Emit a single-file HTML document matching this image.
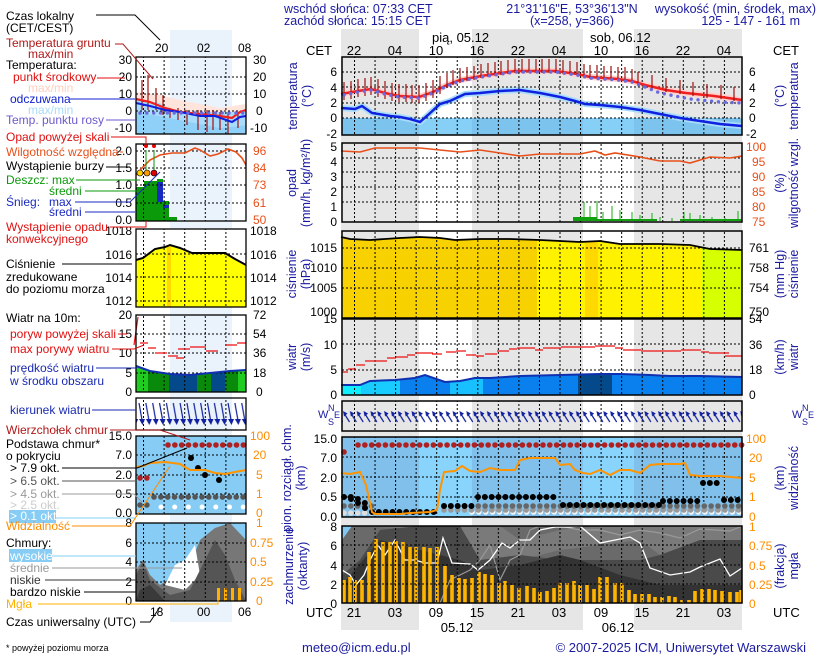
<!DOCTYPE html>
<html><head><meta charset="utf-8">
<style>
html,body{margin:0;padding:0;background:#fff;}
svg{display:block;font-family:"Liberation Sans",Arial,sans-serif;}
</style></head>
<body>
<svg width="820" height="660" viewBox="0 0 820 660" xmlns="http://www.w3.org/2000/svg">
<defs>
<pattern id="vg" patternUnits="userSpaceOnUse" x="354" y="0" width="20.55" height="4"><rect x="0" y="0" width="1" height="2" fill="#000"/></pattern>
<pattern id="lvg" patternUnits="userSpaceOnUse" x="143" y="0" width="20.6" height="4"><rect x="0" y="0" width="1" height="2" fill="#000"/></pattern>
<pattern id="wd" patternUnits="userSpaceOnUse" x="343" y="401" width="6.85" height="30"><path d="M6.5 21L1.5 13" stroke="#1020a0" stroke-width="1.2"/><path d="M0 10L4.5 12.5L1 15.5Z" fill="#1020a0"/></pattern>
<pattern id="lwd" patternUnits="userSpaceOnUse" x="138" y="398" width="6.85" height="32"><path d="M1 5L4 22" stroke="#1020a0" stroke-width="1.2"/><path d="M1 21L7 21L4.5 27Z" fill="#1020a0"/></pattern>
<clipPath id="cT"><rect x="342" y="57" width="400" height="78"/></clipPath>
<clipPath id="cC"><rect x="342" y="526" width="400" height="77"/></clipPath>
<clipPath id="lC"><rect x="136" y="523" width="110" height="78"/></clipPath>
</defs>
<rect width="820" height="660" fill="#fff"/>
<rect x="170" y="30" width="62" height="592" fill="#eaf2fc"/>
<rect x="341" y="29" width="78" height="601" fill="#e6e6e6"/>
<rect x="472" y="29" width="111" height="601" fill="#e6e6e6"/>
<rect x="634" y="29" width="108" height="601" fill="#e6e6e6"/>

<g font-size="12.5" fill="#1a1aa0">
<text x="284" y="13">wschód słońca: 07:33 CET</text>
<text x="284" y="25">zachód słońca: 15:15 CET</text>
<text x="572" y="13" text-anchor="middle">21°31'16"E, 53°36'13"N</text>
<text x="572" y="25" text-anchor="middle">(x=258,  y=366)</text>
<text x="816" y="13" text-anchor="end">wysokość (min, środek, max)</text>
<text x="800" y="25" text-anchor="end">125 - 147 - 161 m</text>
</g>
<g font-size="13" fill="#000">
<text x="432" y="42">pią, 05.12</text>
<text x="590" y="42">sob, 06.12</text>
<text x="306" y="55">CET</text><text x="773" y="55">CET</text>
<g text-anchor="middle">
<text x="354" y="55">22</text><text x="395" y="55">04</text><text x="436" y="55">10</text><text x="477" y="55">16</text><text x="518" y="55">22</text><text x="559" y="55">04</text><text x="601" y="55">10</text><text x="642" y="55">16</text><text x="683" y="55">22</text><text x="724" y="55">04</text>
<text x="354" y="617">21</text><text x="395" y="617">03</text><text x="436" y="617">09</text><text x="477" y="617">15</text><text x="518" y="617">21</text><text x="559" y="617">03</text><text x="601" y="617">09</text><text x="642" y="617">15</text><text x="683" y="617">21</text><text x="724" y="617">03</text>
<text x="457" y="632">05.12</text><text x="618" y="632">06.12</text>
</g>
<text x="306" y="617">UTC</text><text x="773" y="617">UTC</text>
</g>

<!-- TEMPERATURE -->
<g clip-path="url(#cT)">
<rect x="342" y="118" width="400" height="17" fill="#7cc4ee"/>
<rect x="419" y="118" width="53" height="17" fill="#86d0f8"/>
<rect x="583" y="118" width="51" height="17" fill="#86d0f8"/>
<polyline fill="none" stroke="#ffd0cc" stroke-width="6" points="341,94 358,91 371,89 385,93 399,96 419,97 433,92 447,85 460,80 481,76 501,73 515,71 556,71 577,74 590,77 618,79 632,81 645,85 666,90 686,93 714,96 742,100"/>
<polyline fill="none" stroke="#a8dcfa" stroke-width="6" points="341,108 355,109 362,106 372,113 390,116 400,117 410,119 420,122 428,115 440,104 450,101 465,94 480,93 500,91 520,90 540,93 560,97 575,101 585,104 600,105 620,107 640,110 660,114 680,118 700,121 720,124 742,126"/>
</g>
<rect x="342" y="57" width="400" height="78" fill="url(#vg)"/>
<path d="M342 72H742M342 87H742M342 103H742M342 118H742" stroke="#000" stroke-dasharray="2,2"/>
<polyline fill="none" stroke="#ee2020" stroke-width="2.5" points="341,94 358,91 371,89 385,93 399,96 419,97 433,92 447,85 460,80 481,76 501,73 515,71 556,71 577,74 590,77 618,79 632,81 645,85 666,90 686,93 714,96 742,100"/>
<path stroke="#a01010" stroke-width="1.2" d="M344 82V100M351 81V99M358 79V97M365 78V96M371 77V95M378 79V97M385 81V99M392 83V101M399 84V102M406 84V102M412 85V103M419 85V103M426 83V101M433 80V98M440 76V94M447 73V88M453 70V85M460 68V83M467 67V81M474 66V80M481 64V78M488 63V77M495 62V76M501 61V75M508 60V74M515 59V73M522 59V73M529 59V73M536 59V73M542 59V73M549 59V73M556 59V73M563 60V74M570 61V75M577 62V76M584 64V78M590 65V79M597 65V79M604 66V80M611 66V80M618 67V81M625 67V81M632 69V83M638 72V86M652 75V89M666 78V92M680 80V94M693 82V96M707 84V98M721 85V99M734 87V101"/>
<polyline fill="none" stroke="#6a6ae0" stroke-width="3.4" stroke-linecap="round" stroke-dasharray="0 6.85" points="344,95 358,92 371,90 385,94 399,97 419,98 433,93 447,86 460,81 481,77 501,74 515,72 556,72 577,75 590,78 618,80 632,82 645,87 660,93 690,99 720,102 742,103"/>
<polyline fill="none" stroke="#1020e0" stroke-width="2.5" points="341,108 355,109 362,106 372,113 390,116 400,117 410,119 420,122 428,115 440,104 450,101 465,94 480,93 500,91 520,90 540,93 560,97 575,101 585,104 600,105 620,107 640,110 660,114 680,118 700,121 720,124 742,126"/>
<rect x="342" y="57" width="400" height="78" fill="none" stroke="#000" stroke-width="1.5"/>

<!-- PRECIP -->
<rect x="342" y="143" width="400" height="79" fill="url(#vg)"/>
<path d="M342 158H742M342 172H742M342 187H742M342 202H742" stroke="#000" stroke-dasharray="2,2"/>
<path stroke="#10b010" stroke-width="1" d="M576 221V218M584 221V202M590 221V206M597 221V201M603 221V212M612 221V206M620 221V210M632 221V212M640 221V215M652 221V213M660 221V217M672 221V218M684 221V212M690 221V213M700 221V215M712 221V217M725 221V218M738 221V211"/>
<rect x="573" y="217" width="24" height="4" fill="#10a010"/>
<rect x="597" y="219" width="60" height="2" fill="#10a010"/>
<rect x="680" y="219" width="62" height="2" fill="#10a010"/>
<polyline fill="none" stroke="#e8501a" stroke-width="1.6" points="341,151 360,152 375,148 420,148 460,152 480,150 500,153 520,156 540,154 560,154 580,154 595,151 605,155 615,153 640,157 660,161 680,161 690,163 710,157 730,158 742,156"/>
<rect x="342" y="143" width="400" height="79" fill="none" stroke="#000" stroke-width="1.5"/>

<!-- PRESSURE -->
<polygon fill="#f8d200" points="341,237 350,239 370,240 400,238 420,237 440,238 455,240 480,239 510,239 537,240 537,318 341,318"/>
<polygon fill="#fff200" points="537,240 560,241 580,242 600,241 620,244 660,244 690,245 702,248 702,318 537,318"/>
<rect x="585" y="242" width="13" height="76" fill="#ffd800"/>
<polygon fill="#d6ff00" points="702,248 710,249 742,250 742,318 702,318"/>
<rect x="342" y="231" width="400" height="87" fill="url(#vg)"/>
<path d="M342 248H742M342 268H742M342 288H742" stroke="#000" stroke-dasharray="2,2"/>
<polyline fill="none" stroke="#000" stroke-width="1.8" points="341,237 350,239 370,240 400,238 420,237 440,238 455,240 480,239 510,239 540,240 560,241 580,242 600,241 620,244 660,244 690,245 710,249 742,250"/>
<rect x="342" y="231" width="400" height="87" fill="none" stroke="#000" stroke-width="1.5"/>

<!-- WIND -->
<polygon fill="#0a80ee" points="341,385 360,385 370,381 395,380 415,378 425,375 445,382 460,381 475,378 490,378 520,376 560,375 600,374 620,374 650,375 670,376 700,376 742,377 742,395 341,395"/>
<polygon fill="#18ccff" points="341,385 360,385 370,381 395,380 400,380 400,395 341,395"/>
<rect x="341" y="385" width="20" height="10" fill="#10eeff"/>
<polygon fill="#18c0ff" points="450,381 460,381 475,378 483,378 483,395 450,395"/>
<rect x="578" y="375" width="34" height="20" fill="#044a8a"/>
<rect x="342" y="319" width="400" height="76" fill="url(#vg)"/>
<path d="M342 344H742M342 370H742" stroke="#000" stroke-dasharray="2,2"/>
<polyline fill="none" stroke="#1030b0" stroke-width="2" points="341,385 360,385 370,381 395,380 415,378 425,375 445,382 460,381 475,378 490,378 520,376 560,375 600,374 620,374 650,375 670,376 700,376 742,377"/>
<path stroke="#ee1010" stroke-width="1.3" d="M342 372h6M348 369h8M356 365h9M365 361h22M387 358h9M396 357h12M407 355h8M415 353h18M432 354h10M446 352h10M456 351h10M466 355h10M476 356h8M485 354h12M497 351h12M509 349h8M517 348h18M535 350h8M543 348h18M561 347h34M595 346h20M615 348h8M623 350h18M641 351h40M681 350h20M701 352h8M709 353h20M725 356h17"/>
<rect x="342" y="319" width="400" height="76" fill="none" stroke="#000" stroke-width="1.5"/>

<!-- WIND DIR -->
<rect x="342" y="401" width="400" height="30" fill="url(#vg)"/>
<rect x="342" y="402" width="400" height="28" fill="url(#wd)"/>
<rect x="342" y="401" width="400" height="30" fill="none" stroke="#000" stroke-width="1.5"/>

<!-- CLOUD BASE -->
<rect x="342" y="437" width="400" height="80" fill="#80c0ea"/>
<rect x="419" y="437" width="53" height="80" fill="#88d4fc"/>
<rect x="583" y="437" width="51" height="80" fill="#88d4fc"/>
<rect x="342" y="437" width="400" height="80" fill="url(#vg)"/>
<path d="M342 457H742M342 477H742M342 497H742" stroke="#000" stroke-dasharray="2,2"/>
<path d="M472 512H742" stroke="#f4f4f4" stroke-width="5.6" stroke-linecap="round" stroke-dasharray="0 6.85"/>
<path d="M344 513H372" stroke="#ddd" stroke-width="5.6" stroke-linecap="round" stroke-dasharray="0 6.85"/>
<path d="M444 510H742" stroke="#999" stroke-width="5.6" stroke-linecap="round" stroke-dasharray="0 6.85"/>
<path d="M344 506H372M444 506H742" stroke="#666" stroke-width="5.6" stroke-linecap="round" stroke-dasharray="0 6.85"/>
<path d="M344 497h7.5M351 499h7M358 503h7M365 508h6.5M372 512H440M444 506H472M478 497H560M563 505H660M663 501H700M703 483H722M724 500H742" stroke="#000" stroke-width="6" stroke-linecap="round" stroke-dasharray="0 6.85"/>
<path d="M344 452h6M351 449h0M358 445H742" stroke="#b02020" stroke-width="5.6" stroke-linecap="round" stroke-dasharray="0 6.85"/>
<polyline fill="none" stroke="#ff9400" stroke-width="2" points="341,473 350,474 360,472 366,485 372,512 375,514 400,514 410,513 430,512 437,510 440,490 444,472 455,471 462,466 470,471 480,472 490,468 500,470 515,470 520,460 530,458 555,458 560,465 570,464 575,470 583,473 590,474 600,470 610,475 620,470 630,470 640,473 650,465 660,464 680,464 685,463 690,475 700,476 720,476 742,478"/>
<rect x="342" y="437" width="400" height="80" fill="none" stroke="#000" stroke-width="1.5"/>

<!-- CLOUD COVER -->
<g clip-path="url(#cC)">
<rect x="342" y="526" width="400" height="77" fill="#6a6a6a"/>
<polygon fill="#7a7a7a" points="342,526 500,526 520,540 560,530 600,526 742,526 742,570 720,560 690,560 660,555 640,540 600,545 560,550 520,560 480,560 460,530"/>
<polygon fill="#4a4a4a" points="342,575 360,560 380,530 420,526 460,526 480,560 520,555 560,560 600,560 640,560 660,555 700,540 742,540 742,603 342,603"/>
<polygon fill="#333" points="342,585 380,540 420,550 460,560 480,570 520,565 560,555 580,560 620,575 660,585 742,585 742,603 342,603"/>
<polygon fill="#82c8f0" points="342,526 352,526 342,540"/>
<polyline fill="none" stroke="#999" stroke-width="1.2" points="440,603 450,580 470,570 480,560 490,545 500,580 510,560 520,555 530,530 540,526 560,526 580,530 600,530 620,535 640,530 660,533 680,538 700,529 730,531 742,526"/>
<polyline fill="none" stroke="#fff" stroke-width="1.3" points="342,570 350,575 356,585 364,575 370,560 378,545 385,555 395,540 405,560 415,560 425,563 437,563 443,538 452,563 470,564 478,570 490,560 502,543 510,548 520,540 530,540 540,530 555,527 570,527 580,526 600,543 630,537 640,543 650,568 670,575 690,572 700,567 720,559 730,576 742,568"/>
</g>
<path stroke="#ffb400" stroke-width="3.6" d="M344 603V580M350 603V577M355 603V580M362 603V580M369 603V552M376 603V539M383 603V542M390 603V542M396 603V541M403 603V542M410 603V547M416 603V547M424 603V547M430 603V548M437 603V547M445 603V566M452 603V575M459 603V578M465 603V579M472 603V578M479 603V572M485 603V574M492 603V575M499 603V583M505 603V581M512 603V585M519 603V588M527 603V586M534 603V588M540 603V592M547 603V591M554 603V588M560 603V583M567 603V583M574 603V581M580 603V585M587 603V585M594 603V589M600 603V577M607 603V577M615 603V583M622 603V583M629 603V590M635 603V594M642 603V594M649 603V594M655 603V597M662 603V597M669 603V596M675 603V597M682 603V600M689 603V600M695 603V591M702 603V589M709 603V589M715 603V590M722 603V591M730 603V592M737 603V592M741 603V590"/>
<rect x="342" y="526" width="400" height="77" fill="url(#vg)"/>
<path d="M342 545H742M342 565H742M342 584H742" stroke="#000" stroke-dasharray="2,2"/>
<rect x="342" y="526" width="400" height="77" fill="none" stroke="#000" stroke-width="1.5"/>

<!-- main tick labels -->
<g font-size="12" fill="#000" text-anchor="end">
<text x="337" y="76">6</text><text x="337" y="92">4</text><text x="337" y="107">2</text><text x="337" y="122">0</text><text x="337" y="138">-2</text>
<text x="337" y="151">5</text><text x="337" y="166">4</text><text x="337" y="181">3</text><text x="337" y="196">2</text><text x="337" y="211">1</text><text x="337" y="226">0</text>
<text x="337" y="252">1015</text><text x="337" y="272">1010</text><text x="337" y="292">1005</text><text x="337" y="316">1000</text>
<text x="337" y="323">15</text><text x="337" y="349">10</text><text x="337" y="374">5</text><text x="337" y="399">0</text>
<text x="337" y="443">15.0</text><text x="337" y="462">7.0</text><text x="337" y="482">2.0</text><text x="337" y="501">0.5</text><text x="337" y="521">0.0</text>
<text x="337" y="531">8</text><text x="337" y="550">6</text><text x="337" y="570">4</text><text x="337" y="589">2</text><text x="337" y="608">0</text>
</g>
<g font-size="12" fill="#000">
<text x="749" y="76">6</text><text x="749" y="92">4</text><text x="749" y="107">2</text><text x="749" y="122">0</text><text x="746" y="138">-2</text>
<text x="749" y="252">761</text><text x="749" y="272">758</text><text x="749" y="292">754</text><text x="749" y="316">750</text>
<text x="749" y="323">54</text><text x="749" y="349">36</text><text x="749" y="374">18</text><text x="749" y="399">0</text>
</g>
<g font-size="12" fill="#ff8c00">
<text x="746" y="151" fill="#e8501a">100</text><text x="752" y="166" fill="#e8501a">95</text><text x="752" y="181" fill="#e8501a">90</text><text x="752" y="196" fill="#e8501a">85</text><text x="752" y="211" fill="#e8501a">80</text><text x="752" y="226" fill="#e8501a">75</text>
<text x="746" y="443">100</text><text x="749" y="462">20</text><text x="749" y="482">5</text><text x="749" y="501">1</text><text x="749" y="521">0</text>
<text x="749" y="531">1</text><text x="749" y="550">0.75</text><text x="749" y="570">0.5</text><text x="749" y="589">0.25</text><text x="749" y="608">0</text>
</g>
<g font-size="12.5" fill="#1a1aa0" text-anchor="middle">
<text transform="translate(297,96) rotate(-90)">temperatura</text>
<text transform="translate(311,96) rotate(-90)">(°C)</text>
<text transform="translate(296,183) rotate(-90)">opad</text>
<text transform="translate(310,183) rotate(-90)">(mm/h, kg/m²/h)</text>
<text transform="translate(296,274) rotate(-90)">ciśnienie</text>
<text transform="translate(310,274) rotate(-90)">(hPa)</text>
<text transform="translate(296,357) rotate(-90)">wiatr</text>
<text transform="translate(310,357) rotate(-90)">(m/s)</text>
<text transform="translate(291,478) rotate(-90)">pion. rozciągł. chm.</text>
<text transform="translate(305,478) rotate(-90)">(km)</text>
<text transform="translate(293,566) rotate(-90)">zachmurzenie</text>
<text transform="translate(307,566) rotate(-90)">(oktanty)</text>
<text transform="translate(784,96) rotate(-90)">(°C)</text>
<text transform="translate(798,96) rotate(-90)">temperatura</text>
<text transform="translate(784,183) rotate(-90)">(%)</text>
<text transform="translate(798,183) rotate(-90)">wilgotność wzgl.</text>
<text transform="translate(784,274) rotate(-90)">(mm Hg)</text>
<text transform="translate(798,274) rotate(-90)">ciśnienie</text>
<text transform="translate(784,357) rotate(-90)">(km/h)</text>
<text transform="translate(798,357) rotate(-90)">wiatr</text>
<text transform="translate(784,478) rotate(-90)">(km)</text>
<text transform="translate(798,478) rotate(-90)">widzialność</text>
<text transform="translate(784,566) rotate(-90)">(frakcja)</text>
<text transform="translate(798,566) rotate(-90)">mgła</text>
</g>
<g font-size="11" fill="#1a1aa0">
<text x="318" y="418">W</text><text x="328" y="411" font-size="9">N</text><text x="328" y="425" font-size="9">S</text><text x="334" y="418" font-size="9">E</text>
<text x="792" y="418">W</text><text x="802" y="411" font-size="9">N</text><text x="802" y="425" font-size="9">S</text><text x="808" y="418" font-size="9">E</text>
</g>

<!-- LEFT MINI PANELS -->
<rect x="136" y="57" width="110" height="77" fill="#fff"/>
<rect x="170" y="57" width="62" height="77" fill="#eaf2fc"/>
<polygon fill="#ffe4dc" points="136,92 160,95 180,100 200,104 220,108 246,104 246,113 136,113"/>
<polygon fill="#a8dcfa" points="136,100 160,103 170,112 246,112 246,125 220,128 200,124 180,120 160,116 136,112"/>
<polygon fill="#8ed0f8" points="136,112 160,116 180,120 200,124 220,128 246,125 246,134 136,134"/>
<rect x="136" y="57" width="110" height="77" fill="url(#lvg)"/>
<path d="M136 77H246M136 94H246M136 111H246" stroke="#000" stroke-dasharray="2,2"/>
<path stroke="#a01010" stroke-width="1.2" d="M142 80v30M148 75v35M156 88v22M163 95v20M170 108v10M178 108v12M187 110v15M198 110v20M207 110v22M213 110v20M220 112v18M228 112v22M238 112v16"/>
<polyline fill="none" stroke="#ee2020" stroke-width="2.2" points="136,99 150,102 165,108 180,112 200,114 220,116 232,118 240,112 246,110"/>
<polyline fill="none" stroke="#1020e0" stroke-width="2" points="136,103 150,106 165,110 180,112 200,116 215,116 232,122 240,117 246,116"/>
<path d="M140 113H246" stroke="#6a6ae0" stroke-width="3.4" stroke-linecap="round" stroke-dasharray="0 6.85"/>
<rect x="136" y="57" width="110" height="77" fill="none" stroke="#000" stroke-width="1.3"/>

<rect x="136" y="144" width="110" height="77" fill="#fff"/>
<rect x="170" y="144" width="62" height="77" fill="#eaf2fc"/>
<rect x="136" y="187" width="8" height="34" fill="#0a9a0a"/>
<rect x="144" y="181" width="13" height="40" fill="#0a9a0a"/>
<rect x="157" y="179" width="6" height="42" fill="#0a9a0a"/>
<rect x="157" y="182" width="6" height="20" fill="#1a2ac0"/>
<rect x="163" y="201" width="6" height="20" fill="#0a9a0a"/>
<rect x="163" y="205" width="6" height="3" fill="#1a2ac0"/>
<rect x="169" y="217" width="8" height="4" fill="#0a9a0a"/>
<rect x="136" y="144" width="110" height="77" fill="url(#lvg)"/>
<path d="M136 151H246M136 168H246M136 185H246M136 203H246" stroke="#000" stroke-dasharray="2,2"/>
<polyline fill="none" stroke="#e8501a" stroke-width="1.6" points="136,175 142,168 150,160 160,155 172,153 185,153 195,148 200,150 210,156 218,154 228,149 236,152 242,158 246,165"/>
<path stroke="#0a9a0a" d="M146 150v22M154 150v24"/>
<circle cx="146" cy="146" r="2" fill="#e00"/><circle cx="154" cy="146" r="2" fill="#e00"/>
<circle cx="140" cy="173" r="3" fill="#ffd000" stroke="#000" stroke-width=".6"/><circle cx="147" cy="173" r="3" fill="#ff9a00" stroke="#000" stroke-width=".6"/><circle cx="154" cy="173" r="3" fill="#e00000" stroke="#000" stroke-width=".6"/>
<rect x="136" y="144" width="110" height="77" fill="none" stroke="#000" stroke-width="1.3"/>

<rect x="136" y="229" width="110" height="78" fill="#fff"/>
<polygon fill="#ffff00" points="136,260 143,258 155,249 165,247 170,245 180,248 192,253 210,253 225,253 235,259 246,265 246,307 136,307"/>
<rect x="167" y="246" width="4" height="61" fill="#ffd800"/>
<rect x="136" y="229" width="110" height="78" fill="url(#lvg)"/>
<path d="M136 254H246M136 277H246M136 301H246" stroke="#000" stroke-dasharray="2,2"/>
<polyline fill="none" stroke="#000" stroke-width="2" points="136,260 143,258 155,249 165,247 170,245 180,248 192,253 210,253 225,253 235,259 246,265"/>
<rect x="136" y="229" width="110" height="78" fill="none" stroke="#000" stroke-width="1.3"/>

<rect x="136" y="315" width="110" height="77" fill="#fff"/>
<rect x="170" y="315" width="62" height="77" fill="#eaf2fc"/>
<polygon fill="#0a8a0a" points="136,366 150,371 170,374 190,375 210,373 230,371 246,370 246,392 136,392"/>
<polygon fill="#20cc20" points="136,366 148,370 148,392 136,392"/>
<rect x="238" y="370" width="8" height="22" fill="#20cc20"/>
<rect x="169" y="374" width="28" height="18" fill="#044a8a"/>
<rect x="211" y="372" width="14" height="20" fill="#044a8a"/>
<rect x="136" y="315" width="110" height="77" fill="url(#lvg)"/>
<path d="M136 334H246M136 353H246M136 373H246" stroke="#000" stroke-dasharray="2,2"/>
<polyline fill="none" stroke="#1030b0" stroke-width="2" points="136,366 150,371 170,374 190,375 210,373 230,371 246,370"/>
<path stroke="#ee1010" stroke-width="1.2" d="M134 345l4-28M140 343h8M148 348h8M155 353h12M168 356h10M176 358h8M178 349h12M190 347h16M206 351h12M225 345h12M237 343h9"/>
<rect x="136" y="315" width="110" height="77" fill="none" stroke="#000" stroke-width="1.3"/>

<rect x="136" y="398" width="110" height="32" fill="#fff"/>
<rect x="170" y="398" width="62" height="32" fill="#eaf2fc"/>
<rect x="136" y="398" width="110" height="32" fill="url(#lvg)"/>
<rect x="136" y="399" width="110" height="30" fill="url(#lwd)"/>
<rect x="136" y="398" width="110" height="32" fill="none" stroke="#000" stroke-width="1.3"/>

<rect x="136" y="436" width="110" height="78" fill="#86ccf4"/>
<rect x="136" y="436" width="110" height="78" fill="url(#lvg)"/>
<path d="M136 455H246M136 475H246M136 494H246" stroke="#000" stroke-dasharray="2,2"/>
<path d="M140 478h7M154 444h0M161 450h0M168 445H246" stroke="#b02020" stroke-width="5.6" stroke-linecap="round" stroke-dasharray="0 6.85"/>
<path d="M140 505h7M154 497H246" stroke="#555" stroke-width="5.6" stroke-linecap="round" stroke-dasharray="0 6.85"/>
<path d="M161 507H246" stroke="#fff" stroke-width="5" stroke-linecap="round" stroke-dasharray="0 13.7"/>
<circle cx="191" cy="458" r="3" fill="#000"/><circle cx="198" cy="468" r="3" fill="#000"/><circle cx="205" cy="475" r="3" fill="#000"/><circle cx="219" cy="480" r="3" fill="#000"/>
<polyline fill="none" stroke="#ff9400" stroke-width="2" points="136,467 143,466 150,463 165,462 180,464 190,470 205,470 215,473 225,474 235,472 246,470"/>
<rect x="136" y="436" width="110" height="78" fill="none" stroke="#000" stroke-width="1.3"/>

<g clip-path="url(#lC)">
<rect x="136" y="523" width="110" height="78" fill="#86ccf4"/>
<polygon fill="#777" points="136,601 136,570 143,560 150,575 160,585 175,575 190,565 200,540 215,528 230,523 246,540 246,601"/>
<polygon fill="#fff" points="165,585 175,565 185,560 195,545 200,575 185,590"/>
<polygon fill="#555" points="136,601 136,575 143,562 150,580 170,595 190,590 205,560 215,540 225,555 235,580 246,601"/>
<polygon fill="#3a3a3a" points="136,601 140,590 150,585 165,601"/>
</g>
<g fill="#ffb000"><rect x="217" y="588" width="3" height="13"/><rect x="224" y="588" width="3" height="13"/><rect x="231" y="588" width="3" height="13"/><rect x="238" y="588" width="3" height="13"/></g>
<rect x="136" y="523" width="110" height="78" fill="url(#lvg)"/>
<path d="M136 543H246M136 562H246M136 582H246" stroke="#000" stroke-dasharray="2,2"/>
<rect x="136" y="523" width="110" height="78" fill="none" stroke="#000" stroke-width="1.3"/>

<g font-size="12" fill="#000" text-anchor="end">
<text x="132" y="64">30</text><text x="132" y="81">20</text><text x="132" y="98">10</text><text x="132" y="115">0</text><text x="132" y="132">-10</text>
<text x="132" y="155">2.0</text><text x="132" y="172">1.5</text><text x="132" y="189">1.0</text><text x="132" y="207">0.5</text><text x="132" y="224">0.0</text>
<text x="132" y="235">1018</text><text x="132" y="259">1016</text><text x="132" y="282">1014</text><text x="132" y="305">1012</text>
<text x="132" y="319">20</text><text x="132" y="338">15</text><text x="132" y="357">10</text><text x="132" y="377">5</text><text x="132" y="396">0</text>
<text x="132" y="440">15.0</text><text x="132" y="459">7.0</text><text x="132" y="479">2.0</text><text x="132" y="498">0.5</text><text x="132" y="517">0.0</text>
<text x="132" y="527">8</text><text x="132" y="547">6</text><text x="132" y="566">4</text><text x="132" y="586">2</text><text x="132" y="605">0</text>
</g>
<g font-size="12" fill="#000">
<text x="253" y="64">30</text><text x="253" y="81">20</text><text x="253" y="98">10</text><text x="256" y="115">0</text><text x="250" y="132">-10</text>
<text x="250" y="235">1018</text><text x="250" y="259">1016</text><text x="250" y="282">1014</text><text x="250" y="305">1012</text>
<text x="253" y="319">72</text><text x="253" y="338">54</text><text x="253" y="357">36</text><text x="253" y="377">18</text><text x="256" y="396">0</text>
<text x="155" y="52">20</text><text x="197" y="52">02</text><text x="238" y="52">08</text>
<text x="150" y="616">18</text><text x="197" y="616">00</text><text x="238" y="616">06</text>
</g>
<g font-size="12" fill="#e8501a">
<text x="253" y="155">96</text><text x="253" y="172">84</text><text x="253" y="189">73</text><text x="253" y="207">61</text><text x="253" y="224">50</text>
</g>
<g font-size="12" fill="#ff8c00">
<text x="250" y="440">100</text><text x="253" y="459">20</text><text x="256" y="479">5</text><text x="256" y="498">1</text><text x="256" y="517">0</text>
<text x="256" y="527">1</text><text x="250" y="547">0.75</text><text x="250" y="566">0.5</text><text x="250" y="586">0.25</text><text x="256" y="605">0</text>
</g>

<g font-size="12" fill="#000">
<text x="6" y="20">Czas lokalny</text><text x="6" y="32">(CET/CEST)</text>
<text x="6" y="47" fill="#b01818">Temperatura gruntu</text><text x="28" y="58" fill="#b01818">max/min</text>
<text x="6" y="69">Temperatura:</text>
<text x="13" y="81" fill="#e01010">punkt środkowy</text>
<text x="28" y="92" fill="#ffd0c0">max/min</text>
<text x="10" y="103" fill="#1020d0">odczuwana</text>
<text x="28" y="114" fill="#a8dcfa">max/min</text>
<text x="6" y="124" fill="#6a5acd">Temp. punktu rosy</text>
<text x="6" y="141" fill="#e01010">Opad powyżej skali</text>
<text x="6" y="156" fill="#e8501a">Wilgotność względna</text>
<text x="6" y="170">Wystąpienie burzy</text>
<text x="6" y="184" fill="#0a9a0a">Deszcz: max</text>
<text x="49" y="195" fill="#0a9a0a">średni</text>
<text x="6" y="206" fill="#1a2ac0">Śnieg:</text><text x="49" y="206" fill="#1a2ac0">max</text>
<text x="49" y="216" fill="#1a2ac0">średni</text>
<text x="6" y="231" fill="#e01010">Wystąpienie opadu</text>
<text x="6" y="243" fill="#e01010">konwekcyjnego</text>
<text x="6" y="268">Ciśnienie</text><text x="6" y="281">zredukowane</text><text x="6" y="293">do poziomu morza</text>
<text x="6" y="322">Wiatr na 10m:</text>
<text x="10" y="338" fill="#e01010">poryw powyżej skali</text>
<text x="10" y="353" fill="#e01010">max porywy wiatru</text>
<text x="10" y="372" fill="#1a2ab0">prędkość wiatru</text>
<text x="10" y="385" fill="#1a2ab0">w środku obszaru</text>
<text x="10" y="414" fill="#1a2ab0">kierunek wiatru</text>
<text x="6" y="434" fill="#b01818">Wierzchołek chmur</text>
<text x="6" y="448">Podstawa chmur*</text><text x="6" y="460">o pokryciu</text>
<text x="10" y="472">&gt; 7.9 okt.</text>
<text x="10" y="485" fill="#555">&gt; 6.5 okt.</text>
<text x="10" y="498" fill="#999">&gt; 4.5 okt.</text>
<text x="10" y="509" fill="#ccc">&gt; 2.5 okt.</text>
<rect x="9" y="510" width="47" height="13" fill="#86ccf4"/>
<text x="10" y="520" fill="#fff">&gt; 0.1 okt.</text>
<text x="6" y="530" fill="#ff8c00">Widzialność</text>
<text x="6" y="547">Chmury:</text>
<rect x="9" y="549" width="43" height="13" fill="#86ccf4"/>
<text x="10" y="560" fill="#fff">wysokie</text>
<text x="10" y="572" fill="#999">średnie</text>
<text x="10" y="584" fill="#333">niskie</text>
<text x="10" y="596">bardzo niskie</text>
<text x="6" y="608" fill="#ffb000">Mgła</text>
<text x="6" y="626">Czas uniwersalny (UTC)</text>
<text x="6" y="651" font-size="9">* powyżej poziomu morza</text>
</g>
<g fill="none" stroke-width="1">
<path d="M96 15H135L160 40" stroke="#000"/>
<path d="M115 44h8l30 35" stroke="#b01818"/>
<path d="M97 78h28" stroke="#e01010"/>
<path d="M70 99h65" stroke="#1020d0"/>
<path d="M106 120h29" stroke="#6a5acd"/>
<path d="M111 137h35v8" stroke="#e01010"/>
<path d="M120 152h3" stroke="#e8501a"/>
<path d="M106 167h24" stroke="#000"/>
<path d="M76 180h64" stroke="#0a9a0a"/>
<path d="M85 191h60" stroke="#0a9a0a"/>
<path d="M75 202h55l30-30" stroke="#1a2ac0"/>
<path d="M85 212h50" stroke="#1a2ac0"/>
<path d="M110 227h36v-6" stroke="#e01010"/>
<path d="M62 264h70" stroke="#000"/>
<path d="M118 334h9" stroke="#e01010"/>
<path d="M112 349h22l10-4" stroke="#e01010"/>
<path d="M96 368h41" stroke="#1a2ab0"/>
<path d="M92 410h44" stroke="#1a2ab0"/>
<path d="M110 430h50l30 10" stroke="#b01818"/>
<path d="M62 468h75l50-20" stroke="#000"/>
<path d="M62 481h75" stroke="#555"/>
<path d="M62 494h72l8 8" stroke="#999"/>
<path d="M56 518h80" stroke="#86ccf4"/>
<path d="M72 526h58l40-60" stroke="#ff8c00"/>
<path d="M52 556h84" stroke="#86ccf4"/>
<path d="M52 568h130" stroke="#999"/>
<path d="M45 580h91" stroke="#333"/>
<path d="M84 592h52" stroke="#000"/>
<path d="M38 604h180v-12" stroke="#ffb000"/>
<path d="M140 622h10l10-15" stroke="#000"/>
</g>

<g font-size="13" fill="#1a1aa0">
<text x="302" y="652">meteo@icm.edu.pl</text>
<text x="806" y="652" text-anchor="end">© 2007-2025 ICM, Uniwersytet Warszawski</text>
</g>
</svg>
</body></html>
